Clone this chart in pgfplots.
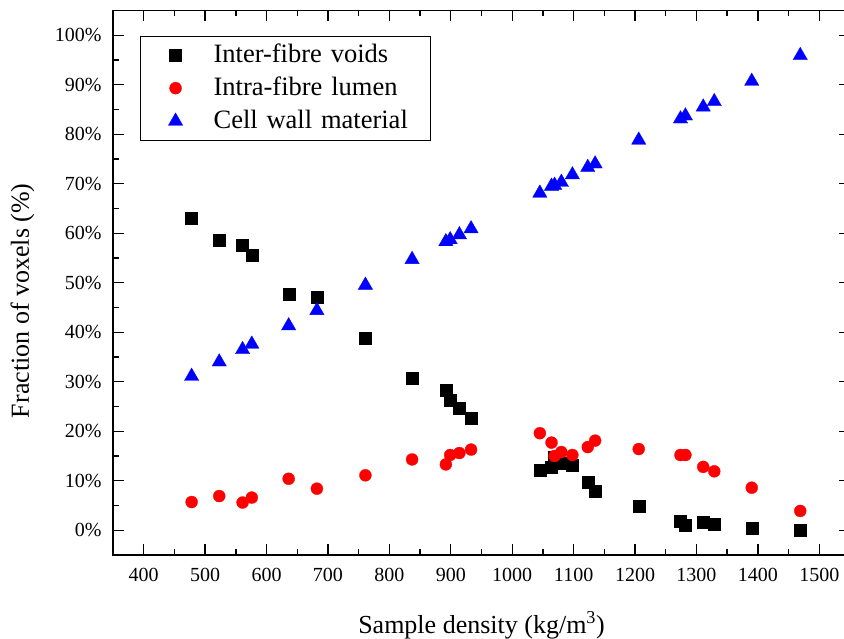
\documentclass[border=0pt]{standalone}
\usepackage{fontspec}
\setmainfont{Liberation Serif}
\usepackage{pgfplots}
\pgfplotsset{compat=1.18}
\begin{document}
\begin{tikzpicture}
\begin{axis}[
  scale only axis, width=737pt, height=544.5pt,
  xmin=350, xmax=1550, ymin=-5, ymax=105,
  xtick={400,500,...,1500}, ytick={0,10,...,100},
  minor x tick num=1, minor y tick num=1,
  major tick length=11pt, minor tick length=6pt,
  every tick/.style={line width=1.4pt, black},
  axis line style={line width=1.6pt},
  scaled ticks=false,
  /pgf/number format/1000 sep={},
  /pgf/number format/assume math mode=true,
  yticklabel={\pgfmathprintnumber{\tick}\%},
  tick label style={font=\fontsize{20}{24}\selectfont},
  xticklabel style={yshift=-10pt},
  yticklabel style={xshift=-8pt},
  label style={font=\fontsize{26}{30}\selectfont},
  xlabel={Sample density (kg/m\textsuperscript{3})},
  ylabel={Fraction of voxels (\%)},
  xlabel style={at={(axis description cs:0.5,-0.1433)}, anchor=base},
  ylabel style={at={(axis description cs:-0.114,0.467)}, anchor=base, rotate=0},
  legend cell align=left,
  legend style={at={(0.0366,0.954)}, anchor=north west, draw=black, line width=1.2pt,
    inner xsep=13pt, inner ysep=8pt, row sep=11pt, column sep=10pt,
    font=\fontsize{26.5}{30}\selectfont,
    nodes={inner sep=0pt, text height=18pt, text depth=4pt, text width=204pt, align=left}},
  legend image code/.code={\path[draw=none] (0pt,0pt) (50pt,0pt); \draw[#1] plot coordinates {(22pt,0pt)};},
]
\addplot[only marks, mark=square*, mark size=6pt, black, mark options={line width=0.3pt}] coordinates {
(478,63.0) (523,58.7) (561,57.5) (576,55.6) (636,47.6) (682,47.0) (761,38.9) (837,30.7)
(892,28.3) (899,26.3) (914,24.7) (933,22.7) (1045,12.1) (1064,12.8) (1069,14.8) (1080,13.6)
(1098,13.1) (1123,9.7) (1135,7.8) (1206,4.8) (1274,1.9) (1282,1.1) (1311,1.6) (1329,1.2)
(1390,0.4) (1469,0.1)
};
\addlegendentry{Inter-fibre voids}
\addplot[only marks, mark=*, mark size=6pt, red, mark options={line width=0.3pt}] coordinates {
(478,5.7) (523,6.9) (561,5.6) (576,6.6) (636,10.4) (682,8.4) (761,11.1) (837,14.3)
(892,13.3) (899,15.2) (914,15.6) (933,16.3) (1045,19.6) (1064,17.7) (1069,15.0) (1080,15.8)
(1098,15.2) (1123,16.8) (1135,18.1) (1206,16.4) (1274,15.2) (1282,15.2) (1311,12.8) (1329,11.9)
(1390,8.6) (1469,3.9)
};
\addlegendentry{Intra-fibre lumen}
\addplot[only marks, mark=triangle*, mark size=8.3pt, blue, mark options={line width=0.3pt}] coordinates {
(478,31.1) (523,34.0) (561,36.5) (576,37.6) (636,41.3) (682,44.4) (761,49.5) (837,54.7)
(892,58.3) (899,58.7) (914,59.7) (933,60.9) (1045,68.1) (1064,69.5) (1069,69.7) (1080,70.3)
(1098,71.8) (1123,73.3) (1135,74.0) (1206,78.8) (1274,83.1) (1282,83.7) (1311,85.5) (1329,86.6)
(1390,90.7) (1469,95.9)
};
\addlegendentry{Cell wall material}
\end{axis}
\pgfresetboundingbox
\path[use as bounding box] ([xshift=-113pt,yshift=-84pt]current axis.south west) rectangle ([xshift=-6pt,yshift=10.5pt]current axis.north east);
\end{tikzpicture}
\end{document}
